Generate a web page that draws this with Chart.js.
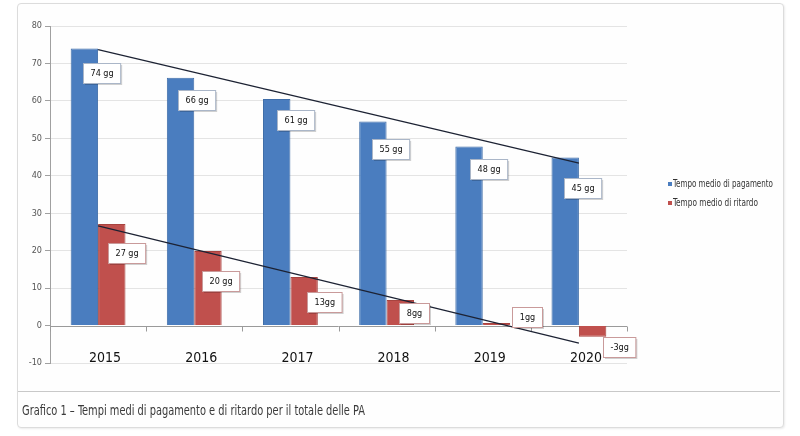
<!DOCTYPE html>
<html><head><meta charset="utf-8">
<script src="https://cdn.jsdelivr.net/npm/chart.js@4/dist/chart.umd.min.js"></script>
<style>
html,body{margin:0;padding:0;background:#fff;}
#wrap{position:relative;width:800px;height:436px;overflow:hidden;}
#card{position:absolute;left:17px;top:3px;width:765px;height:423px;border:1px solid #dcdcdc;border-radius:4px;background:#fefefe;box-shadow:1px 1px 2px rgba(0,0,0,0.08);}
#divider{position:absolute;left:18px;top:391px;width:762px;height:1px;background:#c8c8c8;}
canvas{position:absolute;left:0;top:0;}
.txt{position:absolute;white-space:nowrap;transform-origin:0 50%;font-family:"Liberation Sans Narrow","DejaVu Sans Condensed","Liberation Sans",sans-serif;}
#caption{left:22px;top:402px;font-size:14px;color:#3a3a3a;line-height:16px;}
.leg{font-size:10px;color:#333;line-height:12px;}
.mk{position:absolute;width:4px;height:4px;}
</style></head>
<body><div id="wrap">
<div id="card"></div>
<div id="divider"></div>
<canvas id="c" width="800" height="436"></canvas>
<div class="mk" style="left:668px;top:182px;background:#4a7dbf"></div>
<div class="txt leg" id="leg1" style="left:673px;top:178px">Tempo medio di pagamento</div>
<div class="mk" style="left:668px;top:201px;background:#c0504d"></div>
<div class="txt leg" id="leg2" style="left:673px;top:197px">Tempo medio di ritardo</div>
<div class="txt" id="caption">Grafico 1 – Tempi medi di pagamento e di ritardo per il totale delle PA</div>
</div>
<script>
// ---- data ----
const categories = ["2015","2016","2017","2018","2019","2020"];
const pagamento = [74, 66.2, 60.5, 54.5, 47.8, 44.9];
const ritardo = [27.1, 19.9, 13, 6.8, 0.7, -3];
const pagamentoLabels = ["74 gg","66 gg","61 gg","55 gg","48 gg","45 gg"];
const ritardoLabels = ["27 gg","20 gg","13gg","8gg","1gg","-3gg"];
const trendPagamento = [73.7, null, null, null, null, 43.4];
const trendRitardo = [26.6, null, null, null, null, -4.7];
const yTicks = [-10, 0, 10, 20, 30, 40, 50, 60, 70, 80];
const seriesNames = ["Tempo medio di pagamento", "Tempo medio di ritardo"];

// ---- layout of label boxes (offsets from bar centre / bar end) ----
const labelOffsets = [
  [[-1,15],[-3,12],[0,11],[-1,18],[1,12],[-1,21]],
  [[-4,19],[-6,20],[3,15],[-1,3],[16,-16],[10,0]]
];
const labelTexts = [pagamentoLabels, ritardoLabels];
const boxBorders = ["#aab6c8", "#c99a9a"];
const FONT = '"Liberation Sans Narrow","DejaVu Sans Condensed","Liberation Sans",sans-serif';

const labelPlugin = {
  id: 'boxLabels',
  afterDatasetsDraw(chart) {
    const ctx = chart.ctx;
    ctx.save();
    ctx.font = '9px ' + FONT;
    for (let d = 0; d < 2; d++) {
      const meta = chart.getDatasetMeta(d);
      meta.data.forEach((bar, i) => {
        const [dx, dy] = labelOffsets[d][i];
        const txt = labelTexts[d][i];
        const w = Math.max(30, ctx.measureText(txt).width + 14);
        const h = 20;
        const x = Math.round(bar.x + dx) + 0.5, y = Math.round(bar.y + dy) + 0.5;
        ctx.fillStyle = 'rgba(0,0,0,0.18)';
        ctx.fillRect(x + 1.5, y + 1.5, w, h);
        ctx.fillStyle = '#ffffff';
        ctx.fillRect(x, y, w, h);
        ctx.strokeStyle = boxBorders[d];
        ctx.lineWidth = 1;
        ctx.strokeRect(x, y, w, h);
        ctx.fillStyle = '#111';
        ctx.textAlign = 'center';
        ctx.textBaseline = 'middle';
        ctx.fillText(txt, x + w / 2, y + h / 2 + 0.5);
      });
    }
    ctx.restore();
  }
};

const axisPlugin = {
  id: 'excelAxis',
  beforeDatasetsDraw(chart) {
    const ctx = chart.ctx, ys = chart.scales.y;
    const y0 = Math.round(ys.getPixelForValue(0)) + 0.5;
    const ca = chart.chartArea;
    ctx.save();
    ctx.strokeStyle = '#9a9a9a';
    ctx.lineWidth = 1;
    ctx.beginPath();
    ctx.moveTo(ca.left, y0); ctx.lineTo(ca.right, y0);
    const cw = (ca.right - ca.left) / categories.length;
    for (let i = 0; i <= categories.length; i++) {
      const x = Math.round(ca.left + i * cw) + 0.5;
      ctx.moveTo(x, y0); ctx.lineTo(x, y0 + 5);
    }
    ctx.stroke();
    ctx.restore();
  },
  afterDraw(chart) {
    const ctx = chart.ctx, xs = chart.scales.x;
    ctx.save();
    ctx.font = '14px ' + FONT;
    ctx.fillStyle = '#111';
    ctx.textAlign = 'center';
    ctx.textBaseline = 'middle';
    categories.forEach((c, i) => {
      ctx.fillText(c, xs.getPixelForValue(i) + 7, 358);
    });
    ctx.restore();
  }
};

new Chart(document.getElementById('c'), {
  data: {
    labels: categories,
    datasets: [
      { type: 'bar', label: seriesNames[0], data: pagamento, backgroundColor: '#4a7dbf', borderColor: '#3f6da8', borderWidth: 1, barPercentage: 1, categoryPercentage: 0.57, order: 2 },
      { type: 'bar', label: seriesNames[1], data: ritardo, backgroundColor: '#c0504d', borderColor: '#a8433f', borderWidth: 1, barPercentage: 1, categoryPercentage: 0.57, order: 2 },
      { type: 'line', label: 'trend1', data: trendPagamento, spanGaps: true, borderColor: '#1c2233', borderWidth: 1.2, pointRadius: 0, fill: false, order: 1 },
      { type: 'line', label: 'trend2', data: trendRitardo, spanGaps: true, borderColor: '#1c2233', borderWidth: 1.2, pointRadius: 0, fill: false, order: 1 }
    ]
  },
  options: {
    responsive: false,
    animation: false,
    layout: { padding: { left: 0, right: 173, top: 26, bottom: 73 } },
    plugins: { legend: { display: false }, tooltip: { enabled: false } },
    scales: {
      x: { display: false, offset: true },
      y: {
        min: -10, max: 80,
        afterFit(s) { s.width = 50; },
        afterBuildTicks(s) { s.ticks = yTicks.map(v => ({ value: v })); },
        border: { display: true, color: '#a0a0a0' },
        grid: {
          color: ctx => ctx.tick && ctx.tick.value === 0 ? 'rgba(0,0,0,0)' : '#e4e4e4',
          tickColor: '#a0a0a0', tickLength: 5
        },
        ticks: { color: '#555', font: { size: 9, family: FONT }, padding: 3 }
      }
    }
  },
  plugins: [axisPlugin, labelPlugin]
});

function fit(id, w) {
  const el = document.getElementById(id);
  const r = el.getBoundingClientRect().width;
  el.style.transform = 'scaleX(' + (w / r) + ')';
}
fit('caption', 343);
fit('leg1', 100);
fit('leg2', 85);
</script>
</body></html>
